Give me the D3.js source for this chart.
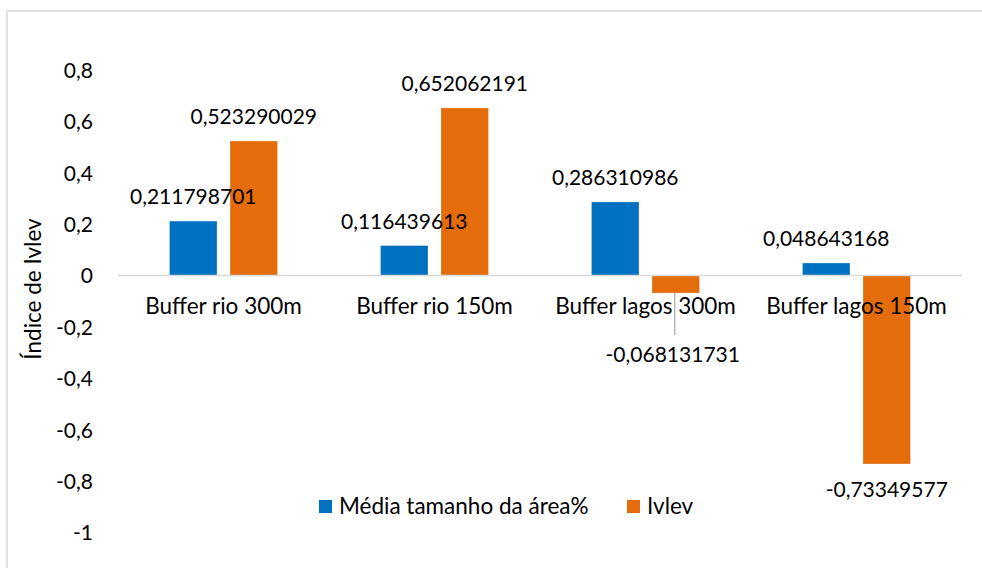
<!DOCTYPE html>
<html>
<head>
<meta charset="utf-8">
<script src="https://cdn.jsdelivr.net/npm/d3@7/dist/d3.min.js"></script>
<style>
  html, body { margin: 0; padding: 0; background: #fff; }
  svg { display: block; }
  text { font-family: Lato, "Open Sans", sans-serif; fill: #000; }
</style>
</head>
<body>
<svg id="chart" width="982" height="568"></svg>
<script>
// Categories, series and values
const categories = ["Buffer rio 300m", "Buffer rio 150m", "Buffer lagos 300m", "Buffer lagos 150m"];
const seriesNames = ["Média tamanho da área%", "Ivlev"];
const mediaArea = [0.211798701, 0.116439613, 0.286310986, 0.048643168];
const ivlev = [0.523290029, 0.652062191, -0.068131731, -0.73349577];
const yTicks = [0.8, 0.6, 0.4, 0.2, 0, -0.2, -0.4, -0.6, -0.8, -1];
const yTitle = "Índice de Ivlev";

const colors = { "Média tamanho da área%": "#0070C0", "Ivlev": "#E46C0A" };

const svg = d3.select("#chart");
const numSize = 21;    // numbers
const textSize = 22.5; // words

// chart frame
svg.append("rect")
  .attr("x", 7).attr("y", 11).attr("width", 1000).attr("height", 600)
  .attr("fill", "none").attr("stroke", "#d9d9d9").attr("stroke-width", 1.5);

const plot = { left: 118, right: 962 };
const y = d3.scaleLinear().domain([-1, 0.8]).range([532.5, 69.9]);

const x0 = d3.scaleBand().domain(categories).range([plot.left, plot.right])
  .paddingInner(0.488).paddingOuter(0.244);
const x1 = d3.scaleBand().domain(seriesNames).range([0, x0.bandwidth()])
  .paddingInner(0.215);

const rows = categories.map((c, i) => ({
  category: c,
  values: [
    { series: seriesNames[0], value: mediaArea[i] },
    { series: seriesNames[1], value: ivlev[i] }
  ]
}));

const fmt = v => String(v).replace(".", ",");

// y axis labels (no line, no ticks)
const yAxis = d3.axisLeft(y).tickValues(yTicks).tickSize(0).tickPadding(0)
  .tickFormat(d => fmt(d));
const yg = svg.append("g").attr("transform", "translate(93,0)").call(yAxis);
yg.select(".domain").remove();
yg.selectAll("text").attr("font-size", numSize).attr("font-family", null)
  .attr("fill", "#000").attr("dy", "0.35em");

// bars
const groups = svg.append("g").selectAll("g").data(rows).join("g")
  .attr("transform", d => `translate(${x0(d.category)},0)`);

groups.selectAll("rect").data(d => d.values).join("rect")
  .attr("x", d => x1(d.series))
  .attr("width", x1.bandwidth())
  .attr("y", d => y(Math.max(0, d.value)))
  .attr("height", d => Math.abs(y(d.value) - y(0)))
  .attr("fill", d => colors[d.series])
  .attr("stroke", "#ffffff").attr("stroke-opacity", 0.35).attr("stroke-width", 0.8);

// zero line
svg.append("line")
  .attr("x1", plot.left).attr("x2", plot.right)
  .attr("y1", y(0)).attr("y2", y(0))
  .attr("stroke", "#d9d9d9").attr("stroke-width", 1.5);

// category labels
const xAxis = d3.axisBottom(x0).tickSize(0).tickPadding(0);
const xg = svg.append("g").attr("transform", "translate(0,314)").call(xAxis);
xg.select(".domain").remove();
xg.selectAll("text").attr("font-size", textSize).attr("font-family", null)
  .attr("fill", "#000").attr("dy", 0).attr("y", 0);

// data labels; one label is pushed below the category text with a leader line
const labelShift = { "Buffer lagos 300m|Ivlev": 36 };
groups.each(function (row) {
  const g = d3.select(this);
  row.values.forEach(d => {
    const cx = x1(d.series) + x1.bandwidth() / 2;
    const shift = labelShift[row.category + "|" + d.series] || 0;
    let ty;
    if (d.value >= 0) ty = y(d.value) - 17;
    else ty = y(d.value) + 33 + shift;
    if (shift) {
      g.append("line")
        .attr("x1", cx - 1).attr("x2", cx - 1)
        .attr("y1", y(d.value)).attr("y2", ty - 27)
        .attr("stroke", "#a6a6a6").attr("stroke-width", 1.2);
    }
    g.append("text")
      .attr("x", cx - (shift ? 3 : 0)).attr("y", ty)
      .attr("text-anchor", "middle").attr("font-size", numSize)
      .text(fmt(d.value));
  });
});

// y axis title
svg.append("text")
  .attr("transform", "translate(41,289) rotate(-90)")
  .attr("text-anchor", "middle").attr("font-size", textSize)
  .text(yTitle);

// legend
const legend = svg.append("g").attr("transform", "translate(319,500)");
const legendX = [0, 308];
seriesNames.forEach((s, i) => {
  const lg = legend.append("g").attr("transform", `translate(${legendX[i]},0)`);
  lg.append("rect").attr("width", 13).attr("height", 13).attr("fill", colors[s]);
  lg.append("text").attr("x", 20).attr("y", 13.5).attr("font-size", textSize).text(s);
});
</script>
</body>
</html>
